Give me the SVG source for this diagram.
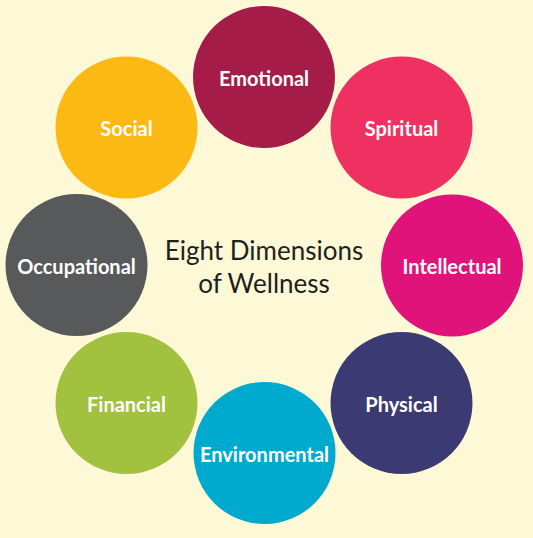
<svg xmlns="http://www.w3.org/2000/svg" width="533" height="538" viewBox="0 0 533 538">
  <style>
    .lbl { font-family: Lato, "Open Sans", "Liberation Sans", sans-serif; font-weight: bold; font-size: 20px; fill: #ffffff; text-anchor: middle; }
    .title { font-family: Lato, "Open Sans", "Liberation Sans", sans-serif; font-size: 26px; fill: #231f20; text-anchor: middle; }
  </style>
  <rect width="533" height="538" fill="#fdf9d6"/>
  <g id="connectors"/>
  <g id="emotional"><circle cx="264" cy="77" r="71" fill="#a51c48"/><text class="lbl" x="264" y="85.5">Emotional</text></g>
  <g id="spiritual"><circle cx="401.5" cy="127.5" r="71" fill="#ee3160"/><text class="lbl" x="401.5" y="136">Spiritual</text></g>
  <g id="intellectual"><circle cx="452" cy="265.5" r="71" fill="#e0137a"/><text class="lbl" x="452" y="274">Intellectual</text></g>
  <g id="physical"><circle cx="401.5" cy="403" r="71" fill="#3b3a72"/><text class="lbl" x="401.5" y="411.5">Physical</text></g>
  <g id="environmental"><circle cx="264.5" cy="453" r="71" fill="#00a9ce"/><text class="lbl" x="264.5" y="461.5">Environmental</text></g>
  <g id="financial"><circle cx="126.5" cy="403" r="71" fill="#a1c13f"/><text class="lbl" x="126.5" y="411.5">Financial</text></g>
  <g id="occupational"><circle cx="76.5" cy="265" r="71" fill="#58595b"/><text class="lbl" x="76.5" y="273.5">Occupational</text></g>
  <g id="social"><circle cx="126.5" cy="127.5" r="71" fill="#fdb913"/><text class="lbl" x="126.5" y="136">Social</text></g>
  <g id="center">
    <text class="title" x="264" y="259.5">Eight Dimensions</text>
    <text class="title" x="264" y="292.5">of Wellness</text>
  </g>
</svg>
